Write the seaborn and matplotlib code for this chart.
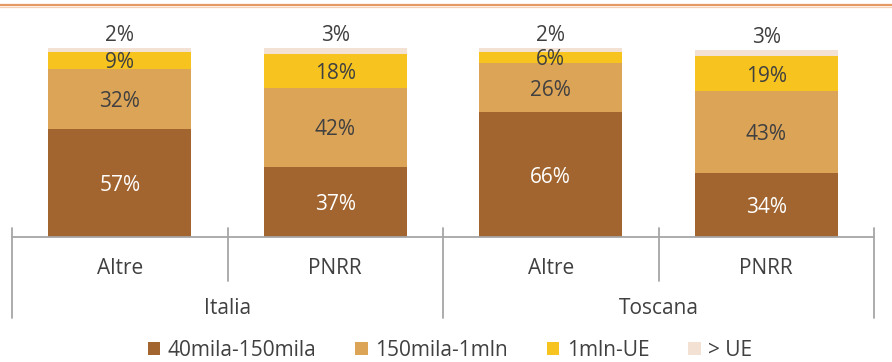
import numpy as np
import pandas as pd
import matplotlib
matplotlib.use("Agg")
import matplotlib.pyplot as plt
from matplotlib.lines import Line2D
from matplotlib.patches import Patch
from matplotlib.transforms import blended_transform_factory
import seaborn as sns

# Data
regions = ["Italia", "Toscana"]
groups = ["Altre", "PNRR", "Altre", "PNRR"]
bands = ["40mila-150mila", "150mila-1mln", "1mln-UE", "> UE"]
v_40_150 = [57, 37, 66, 34]
v_150_1mln = [32, 42, 26, 43]
v_1mln_ue = [9, 18, 6, 19]
v_over_ue = [2, 3, 2, 3]

colors = ["#A2652F", "#DCA457", "#F6C31F", "#F3E2D3"]
label_colors = ["white", "#404040", "#404040", "#404040"]
FS = 15

sns.set_theme(style="white")
plt.rcParams["font.family"] = ["Open Sans", "DejaVu Sans"]

W, H = 892, 362
fig = plt.figure(figsize=(W / 100, H / 100), dpi=100)
ax = fig.add_axes([12 / W, 1 - 237 / H, (874 - 12) / W, (237 - 48) / H])

layers = [v_40_150, v_150_1mln, v_1mln_ue, v_over_ue]
cum = np.cumsum(np.array(layers), axis=0)
xpos = np.arange(len(groups))
df = pd.DataFrame({"x": [str(i) for i in xpos]})

# Stacked bars drawn as cumulative totals, top layer first
for k in range(len(layers) - 1, -1, -1):
    sns.barplot(x=df["x"], y=cum[k], color=colors[k], width=0.665,
                saturation=1, ax=ax, edgecolor="none", linewidth=0)

ax.set_xlim(-0.5, 3.5)
ax.set_ylim(0, 100)
ax.set_yticks([])
ax.set_xticks([])
ax.set_xlabel("")
ax.set_ylabel("")
for s in ax.spines.values():
    s.set_visible(False)

# Segment labels
for k, vals in enumerate(layers):
    for i, v in enumerate(vals):
        if k == len(layers) - 1:
            y = cum[k][i] + 8.0
        else:
            y = cum[k][i] - v / 2
        ax.text(i, y, f"{v}%", ha="center", va="center_baseline", fontsize=FS,
                color=label_colors[k], clip_on=False)

# Category axis with two levels
tr = blended_transform_factory(ax.transData, fig.transFigure)
fy = lambda py: 1 - py / H
axis_color = "#A6A6A6"
ax.add_line(Line2D([-0.5, 3.5], [fy(237), fy(237)], transform=tr,
                   color=axis_color, lw=1.3, clip_on=False))
for xb in [-0.5, 1.5, 3.5]:
    ax.add_line(Line2D([xb, xb], [fy(228), fy(318)], transform=tr,
                       color=axis_color, lw=1.3, clip_on=False))
for xb in [0.5, 2.5]:
    ax.add_line(Line2D([xb, xb], [fy(228), fy(281)], transform=tr,
                       color=axis_color, lw=1.3, clip_on=False))
for i, g in enumerate(groups):
    ax.text(i, fy(265.5), g, transform=tr, ha="center", va="center_baseline",
            fontsize=FS, color="#404040")
for j, r in enumerate(regions):
    ax.text(2 * j + 0.5, fy(305.5), r, transform=tr, ha="center",
            va="center_baseline", fontsize=FS, color="#404040")

# Top rule
fig.add_artist(Line2D([0, 1], [fy(4.5), fy(4.5)], transform=fig.transFigure,
                      color="#E59A62", lw=1.6))
fig.add_artist(Line2D([0, 1], [fy(6.5), fy(6.5)], transform=fig.transFigure,
                      color="#F5D2B5", lw=0.9))

handles = [Patch(facecolor=c, edgecolor="none") for c in colors]
fig.legend(handles, bands, loc="center", bbox_to_anchor=(450 / W, fy(350)),
           ncol=4, frameon=False, fontsize=FS, handlelength=0.6,
           handleheight=0.6, handletextpad=0.35, columnspacing=1.87,
           labelcolor="#404040", borderaxespad=0, borderpad=0)

fig.savefig("out.png", dpi=100)
